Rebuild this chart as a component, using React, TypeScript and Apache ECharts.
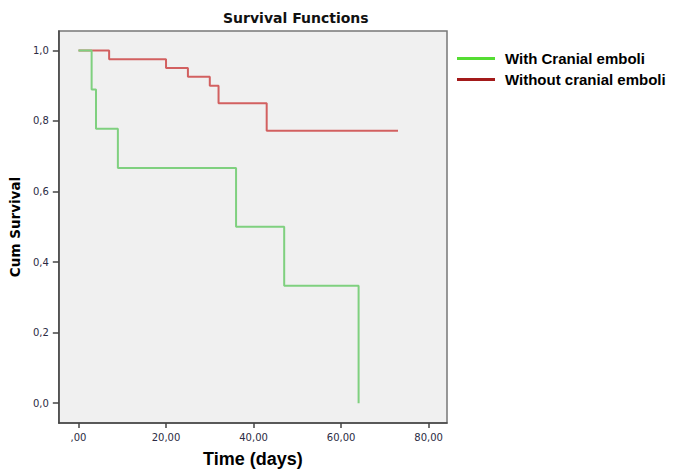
import React, { useEffect, useRef } from "react";
import * as echarts from "echarts";

const seriesNames = ["With Cranial emboli", "Without cranial emboli"];
// [time (days), cumulative survival]
const withEmboli: [number, number][] = [
  [0, 1.0],
  [3, 0.889],
  [4, 0.778],
  [9, 0.667],
  [36, 0.5],
  [47, 0.333],
  [64, 0.0],
];
const withoutEmboli: [number, number][] = [
  [0, 1.0],
  [7, 0.975],
  [20, 0.95],
  [25, 0.925],
  [30, 0.9],
  [32, 0.85],
  [43, 0.772],
  [73, 0.772],
];
const xTicks = [0, 20, 40, 60, 80];
const yTicks = [0, 0.2, 0.4, 0.6, 0.8, 1.0];

const fmtX = (v: number) => {
  const s = v.toFixed(2).replace(".", ",");
  return s.startsWith("0,") ? s.slice(1) : s;
};
const fmtY = (v: number) => v.toFixed(1).replace(".", ",");

export default function App() {
  const ref = useRef<HTMLDivElement>(null);
  useEffect(() => {
    if (!ref.current) return;
    const chart = echarts.init(ref.current, null, { renderer: "svg" });
    chart.setOption({
      animation: false,
      backgroundColor: "#ffffff",
      title: {
        text: "Survival Functions",
        left: 223,
        top: 11,
        padding: 0,
        textStyle: {
          fontFamily: "DejaVu Sans",
          fontWeight: "bold",
          fontSize: 14,
          color: "#111",
        },
      },
      legend: {
        orient: "vertical",
        left: 457,
        top: 51,
        padding: 0,
        itemWidth: 38,
        itemHeight: 3,
        itemGap: 6,
        icon: "rect",
        textStyle: {
          fontFamily: "Liberation Sans",
          fontWeight: "bold",
          fontSize: 15,
          color: "#000",
          padding: [0, 0, 0, 5],
        },
        data: [
          { name: seriesNames[0], itemStyle: { color: "#55dd33" } },
          { name: seriesNames[1], itemStyle: { color: "#a31a1a" } },
        ],
      },
      grid: {
        left: 55,
        top: 31,
        right: 248,
        bottom: 45,
        show: true,
        backgroundColor: "#f0f0f0",
        borderColor: "#777",
        borderWidth: 1.5,
      },
      xAxis: {
        type: "value",
        min: -4.5,
        max: 84.2,
        name: "Time (days)",
        nameLocation: "middle",
        nameGap: 27,
        nameTextStyle: {
          fontFamily: "Liberation Sans",
          fontWeight: "bold",
          fontSize: 18,
          color: "#000",
        },
        axisLine: { show: true, onZero: false, lineStyle: { color: "#444", width: 1.5 } },
        axisTick: {
          show: true,
          length: 5,
          customValues: xTicks,
          lineStyle: { color: "#444", width: 1.5 },
        },
        axisLabel: {
          customValues: xTicks,
          formatter: (v: number) => fmtX(v),
          fontFamily: "DejaVu Sans",
          fontSize: 10,
          color: "#2b2b44",
          margin: 9,
        },
        splitLine: { show: false },
      },
      yAxis: {
        type: "value",
        min: -0.056,
        max: 1.055,
        name: "Cum Survival",
        nameLocation: "middle",
        nameGap: 33,
        nameTextStyle: {
          fontFamily: "DejaVu Sans",
          fontWeight: "bold",
          fontSize: 13.5,
          color: "#000",
        },
        axisLine: { show: true, onZero: false, lineStyle: { color: "#444", width: 1.5 } },
        axisTick: {
          show: true,
          length: 6,
          customValues: yTicks,
          lineStyle: { color: "#444", width: 1.5 },
        },
        axisLabel: {
          customValues: yTicks,
          formatter: (v: number) => fmtY(v),
          fontFamily: "DejaVu Sans",
          fontSize: 10,
          color: "#2b2b44",
          margin: 10,
        },
        splitLine: { show: false },
      },
      series: [
        {
          name: seriesNames[1],
          type: "line",
          step: "end",
          data: withoutEmboli,
          showSymbol: false,
          symbol: "none",
          color: "#a31a1a",
          lineStyle: { color: "#d26060", width: 2 },
          z: 2,
        },
        {
          name: seriesNames[0],
          type: "line",
          step: "end",
          data: withEmboli,
          showSymbol: false,
          symbol: "none",
          color: "#55dd33",
          lineStyle: { color: "#7fd07f", width: 2 },
          z: 3,
        },
      ],
    });
    return () => chart.dispose();
  }, []);
  return <div ref={ref} style={{ width: 695, height: 473, position: "absolute", left: 0, top: 0 }} />;
}
